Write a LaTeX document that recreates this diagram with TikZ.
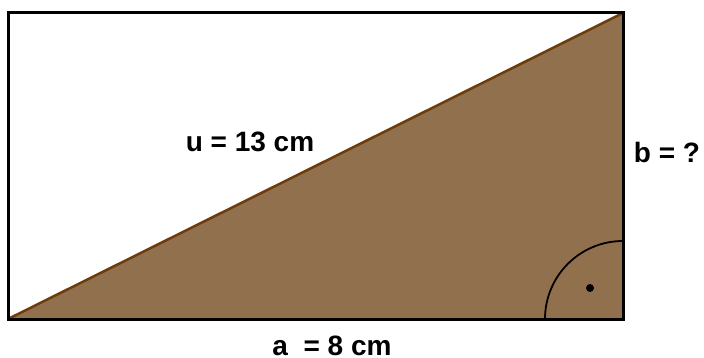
\documentclass[tikz,border=0pt]{standalone}
\usepackage{fontspec}
\setmainfont{Liberation Sans}
\definecolor{fillbrown}{RGB}{145,112,77}
\definecolor{linebrown}{RGB}{110,60,10}
\begin{document}
\begin{tikzpicture}[x=1pt,y=-1pt,
  lbl/.style={font=\fontsize{28}{28}\selectfont\bfseries, inner sep=0pt, anchor=base, text depth=0pt}]
\useasboundingbox (0,0) rectangle (704,358);
\fill[white] (0,0) rectangle (704,358);
\coordinate (A) at (8,319);
\coordinate (B) at (623,319);
\coordinate (C) at (623,13);
\coordinate (D) at (8,13);
\fill[fillbrown] (A) -- (C) -- (B) -- cycle;
\draw[linebrown, line width=2.5pt] (A) -- (C);
\draw[black, line width=1.8pt] (B) ++(-78,0) arc[start angle=180, end angle=270, radius=78];
\fill[black] (590,288) circle (4);
\draw[black, line width=3pt] (A) -- (B) -- (C) -- (D) -- cycle;
\node[lbl] (u) at (250,152) {u = 13 cm};
\node[lbl] (b) at (667,163) {b = ?};
\node[lbl] (a) at (332,355) {a \ = 8 cm};
\end{tikzpicture}
\end{document}
